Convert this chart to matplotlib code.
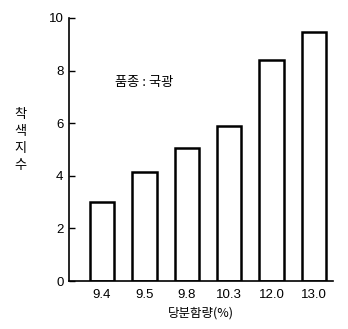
import matplotlib
matplotlib.use("Agg")
import matplotlib.pyplot as plt
import numpy as np

# sugar content (%) vs colour index, cultivar: 국광
sugar_labels = ["9.4", "9.5", "9.8", "10.3", "12.0", "13.0"]
color_index = [3.0, 4.15, 5.05, 5.9, 8.4, 9.45]
y_ticks = [0, 2, 4, 6, 8, 10]

num_font = "Liberation Sans"
kr_font = ["Noto Sans CJK KR", "DejaVu Sans"]

fig = plt.figure(figsize=(3.48, 3.29), dpi=100)
ax = fig.add_axes([69 / 348, 48 / 329, 264 / 348, 263 / 329])

x = np.arange(len(sugar_labels))
ax.bar(x, color_index, width=0.57, facecolor="white", edgecolor="black", linewidth=1.8)

ax.set_xlim(-0.78, len(sugar_labels) - 0.55)
ax.set_ylim(0, 10)
ax.set_xticks(x)
ax.set_xticklabels(sugar_labels, family=num_font, fontsize=9.5)
ax.set_yticks(y_ticks)
ax.set_yticklabels([str(v) for v in y_ticks], family=num_font, fontsize=9.5)

ax.tick_params(axis="x", length=0, pad=6)
ax.tick_params(axis="y", direction="in", length=4, width=1, pad=4)
ax.spines["top"].set_visible(False)
ax.spines["right"].set_visible(False)
ax.spines["left"].set_linewidth(1.2)
ax.spines["bottom"].set_linewidth(1.2)

ax.set_xlabel("당분함량(%)", family=kr_font, fontsize=9, labelpad=4)
ax.text(0.175, 0.755, "품종 : 국광", transform=ax.transAxes, family=kr_font,
        fontsize=9.5, va="center", ha="left")
fig.text(20 / 348, 1 - 140 / 329, "착\n색\n지\n수", family=kr_font, fontsize=9.5,
         ha="center", va="center", linespacing=1.4)

fig.savefig("out.png", dpi=100)
